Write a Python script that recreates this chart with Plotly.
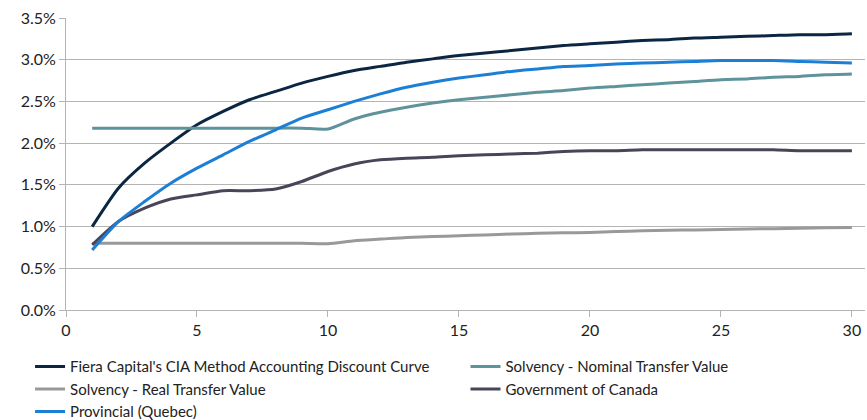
import plotly.graph_objects as go

years = list(range(1, 31))

fiera = [1.00, 1.46, 1.76, 2.00, 2.22, 2.38, 2.52, 2.62, 2.72, 2.80,
         2.87, 2.92, 2.97, 3.01, 3.05, 3.08, 3.11, 3.14, 3.17, 3.19,
         3.21, 3.23, 3.24, 3.26, 3.27, 3.28, 3.29, 3.30, 3.30, 3.31]

nominal = [2.18, 2.18, 2.18, 2.18, 2.18, 2.18, 2.18, 2.18, 2.18, 2.17,
           2.29, 2.37, 2.43, 2.48, 2.52, 2.55, 2.58, 2.61, 2.63, 2.66,
           2.68, 2.70, 2.72, 2.74, 2.76, 2.77, 2.79, 2.80, 2.82, 2.83]

real = [0.80, 0.80, 0.80, 0.80, 0.80, 0.80, 0.80, 0.80, 0.80, 0.795,
        0.83, 0.85, 0.87, 0.88, 0.89, 0.90, 0.91, 0.92, 0.925, 0.93,
        0.94, 0.95, 0.955, 0.96, 0.965, 0.97, 0.975, 0.98, 0.985, 0.99]

canada = [0.78, 1.06, 1.22, 1.33, 1.38, 1.43, 1.43, 1.45, 1.54, 1.66,
          1.75, 1.80, 1.82, 1.83, 1.85, 1.86, 1.87, 1.88, 1.90, 1.91,
          1.91, 1.92, 1.92, 1.92, 1.92, 1.92, 1.92, 1.91, 1.91, 1.91]

quebec = [0.72, 1.06, 1.30, 1.52, 1.70, 1.86, 2.02, 2.16, 2.30, 2.40,
          2.50, 2.59, 2.67, 2.73, 2.78, 2.82, 2.86, 2.89, 2.92, 2.93,
          2.95, 2.96, 2.97, 2.98, 2.99, 2.99, 2.99, 2.98, 2.97, 2.96]

series_names = [
    "Fiera Capital's CIA Method Accounting Discount Curve",
    "Solvency - Nominal Transfer Value",
    "Solvency - Real Transfer Value",
    "Government of Canada",
    "Provincial (Quebec)",
]
series_values = [fiera, nominal, real, canada, quebec]
series_colors = ["#0b2642", "#5f939c", "#999999", "#4a4459", "#1c7fd6"]
series_legend = ["legend", "legend2", "legend", "legend2", "legend"]

x_ticks = [0, 5, 10, 15, 20, 25, 30]
y_ticks = [0, 0.5, 1.0, 1.5, 2.0, 2.5, 3.0, 3.5]
y_labels = ["0.0%", "0.5%", "1.0%", "1.5%", "2.0%", "2.5%", "3.0%", "3.5%"]

fig = go.Figure()
for name, vals, color, lg in zip(series_names, series_values, series_colors, series_legend):
    fig.add_trace(go.Scatter(
        x=years, y=vals, name=name, mode="lines", legend=lg,
        line=dict(color=color, width=3, shape="spline", smoothing=0.6),
    ))

legend_common = dict(
    orientation="v", yanchor="top", xanchor="left",
    font=dict(size=15, color="#222222"),
    itemwidth=30, tracegroupgap=0, bgcolor="rgba(0,0,0,0)",
)

fig.update_layout(
    width=867, height=420,
    margin=dict(l=66, r=2, t=18, b=110, autoexpand=False),
    paper_bgcolor="white", plot_bgcolor="white",
    font=dict(family="Lato", size=16, color="#222222"),
    showlegend=True,
    legend=dict(x=-0.045, y=-0.138, **legend_common),
    legend2=dict(x=0.50, y=-0.138, **legend_common),
)
fig.update_xaxes(
    range=[0, 30.5], tickvals=x_ticks, ticktext=[str(t) for t in x_ticks],
    showgrid=False, zeroline=False, automargin=False,
    showline=True, linecolor="#b4b4b4", linewidth=1,
    ticks="outside", ticklen=6, tickcolor="#b4b4b4",
    tickfont=dict(size=16),
)
fig.update_yaxes(
    range=[0, 3.5], tickvals=y_ticks, ticktext=y_labels,
    showgrid=True, gridcolor="#b4b4b4", gridwidth=1,
    zeroline=False, showline=True, linecolor="#b4b4b4", linewidth=1,
    automargin=False,
    ticks="outside", ticklen=6, tickcolor="#b4b4b4",
    tickfont=dict(size=16),
)

fig.write_html(
    "out.html",
    config={"displayModeBar": False},
    post_script="document.body.style.margin='0';",
)
